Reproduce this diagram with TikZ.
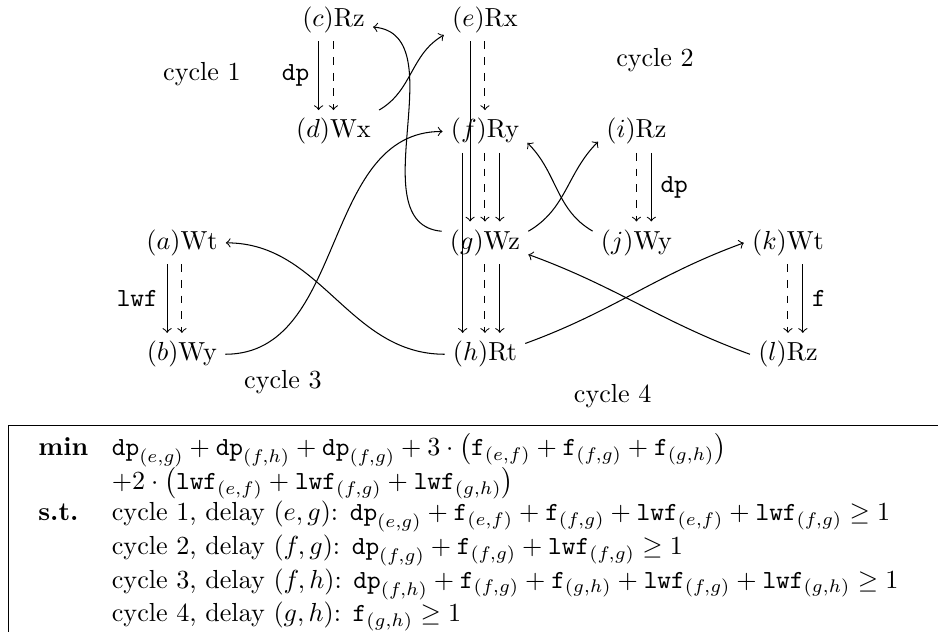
\documentclass[tikz,border=0pt]{standalone}
\usetikzlibrary{positioning}

\begin{document}
\begin{tikzpicture}[node distance=1.5cm and 2.04cm, on grid]
\tikzstyle{op}=[inner sep=3pt]
\tikzstyle{dep}=[->, dashed]
\useasboundingbox (-4.49,0.27) rectangle (8.14,-8.24);
\node[op] (c) {$(c)$Rz};
\node[op, right=of c] (e) {$(e)$Rx};
\node[op, below=of c] (d) {$(d)$Wx};
\node[op, below=of e] (f) {$(f)$Ry};
\node[op, right=of f] (i) {$(i)$Rz};
\node[op, below=of f] (g) {$(g)$Wz};
\node[op, below=of i] (j) {$(j)$Wy};
\node[op, right=of j] (k) {$(k)$Wt};
\node[op, left=4.08cm of g] (a) {$(a)$Wt};
\node[op, below=of a] (b) {$(b)$Wy};
\node[op, below=of g] (h) {$(h)$Rt};
\node[op, below=of k] (l) {$(l)$Rz};
\node at (-1.77,-0.73) (cy1) {cycle 1};
\node at (4.33,-0.54) (cy2) {cycle 2};
\node at (-0.68,-4.87) (cy3) {cycle 3};
\node at (3.76,-5.06) (cy4) {cycle 4};
\draw[->] ([xshift=-2mm]c.south) -- node[left] {\texttt{dp}} ([xshift=-2mm]d.north);
\draw[dep] (c) -- (d);
\draw[dep] (e) -- (f);
\draw[->] ([xshift=-2mm]e.south) -- ([xshift=-2mm]g.north);
\draw[dep] (f) -- (g);
\draw[->] ([xshift=2mm]f.south) -- ([xshift=2mm]g.north);
\draw[->] ([xshift=-3mm]f.south) -- ([xshift=-3mm]h.north);
\draw[dep] (g) -- (h);
\draw[->] ([xshift=2mm]g.south) -- ([xshift=2mm]h.north);
\draw[dep] (i) -- (j);
\draw[->] ([xshift=2mm]i.south) -- node[right] {\texttt{dp}} ([xshift=2mm]j.north);
\draw[->] ([xshift=-2mm]a.south) -- node[left] {\texttt{lwf}} ([xshift=-2mm]b.north);
\draw[dep] (a) -- (b);
\draw[dep] (k) -- (l);
\draw[->] ([xshift=2mm]k.south) -- node[right] {\texttt{f}} ([xshift=2mm]l.north);
% cross edges
\draw[->] (d.north east) to[out=30, in=210] (e.200);
\draw[->] (g.165) to[out=175, in=-5] (c.-10);
\draw[->] (b.east) to[out=0, in=180] (f.west);
\draw[->] (h.west) to[out=180, in=0] (a.east);
\draw[->] (g.15) to[out=30, in=225] (i.195);
\draw[->] (j.165) to[out=150, in=-45] (f.-15);
\draw[->] (l.west) to[out=160, in=-20] (g.-15);
\draw[->] (h.15) to[out=20, in=200] (k.west);
% program
\draw (8.14,-5.46) -| (-4.38,-8.24);
\node[anchor=north west, inner sep=0pt] (lp) at (-3.98,-5.56) {%
\begin{tabular}{@{}l@{\hspace{9pt}}l@{}}
\textbf{min} & $\mathtt{dp}_{(e,g)}+\mathtt{dp}_{(f,h)}+\mathtt{dp}_{(f,g)}+3\cdot\big(\mathtt{f}_{(e,f)}+\mathtt{f}_{(f,g)}+\mathtt{f}_{(g,h)}\big)$\\
 & $+2\cdot\big(\mathtt{lwf}_{(e,f)}+\mathtt{lwf}_{(f,g)}+\mathtt{lwf}_{(g,h)}\big)$\\
\textbf{s.t.} & cycle 1, delay $(e,g)$: $\mathtt{dp}_{(e,g)}+\mathtt{f}_{(e,f)}+\mathtt{f}_{(f,g)}+\mathtt{lwf}_{(e,f)}+\mathtt{lwf}_{(f,g)}\geq 1$\\
 & cycle 2, delay $(f,g)$: $\mathtt{dp}_{(f,g)}+\mathtt{f}_{(f,g)}+\mathtt{lwf}_{(f,g)}\geq 1$\\
 & cycle 3, delay $(f,h)$: $\mathtt{dp}_{(f,h)}+\mathtt{f}_{(f,g)}+\mathtt{f}_{(g,h)}+\mathtt{lwf}_{(f,g)}+\mathtt{lwf}_{(g,h)}\geq 1$\\
 & cycle 4, delay $(g,h)$: $\mathtt{f}_{(g,h)}\geq 1$
\end{tabular}};
\end{tikzpicture}
\end{document}
